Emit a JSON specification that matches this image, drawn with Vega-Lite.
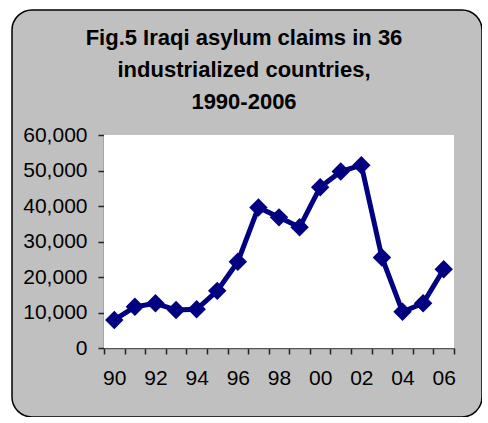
{
  "$schema": "https://vega.github.io/schema/vega-lite/v6.json",
  "width": 470,
  "height": 407,
  "autosize": "none",
  "padding": {"left": 12, "top": 10, "right": 0, "bottom": 0},
  "background": "white",
  "title": {
    "text": ["Fig.5 Iraqi asylum claims in 36", "industrialized countries,", "1990-2006"],
    "font": "Liberation Sans",
    "fontSize": 22,
    "fontWeight": "bold",
    "color": "black",
    "lineHeight": 32,
    "anchor": "middle",
    "frame": "group",
    "baseline": "top",
    "offset": -104,
    "dx": -3
  },
  "view": {"fill": "#c0c0c0", "stroke": "black", "strokeWidth": 1.5, "cornerRadius": 20},
  "config": {
    "axis": {
      "labelFont": "Liberation Sans",
      "labelFontSize": 21,
      "labelColor": "black",
      "domainColor": "#555555",
      "domainWidth": 1.5,
      "tickColor": "#222222",
      "tickWidth": 1.5,
      "tickSize": 6,
      "grid": false,
      "title": null
    }
  },
  "layer": [
    {
      "data": {"values": [{"x0": 1989.5, "x1": 2006.5, "y0": 0, "y1": 60000}]},
      "mark": {"type": "rect", "fill": "white"},
      "encoding": {
        "x": {
          "field": "x0", "type": "quantitative",
          "scale": {"domain": [1989.5, 2006.5], "range": [92, 442], "nice": false, "zero": false},
          "axis": {
            "offset": -69,
            "values": [1989.5, 1990, 1990.5, 1991, 1991.5, 1992, 1992.5, 1993, 1993.5, 1994, 1994.5, 1995, 1995.5, 1996, 1996.5, 1997, 1997.5, 1998, 1998.5, 1999, 1999.5, 2000, 2000.5, 2001, 2001.5, 2002, 2002.5, 2003, 2003.5, 2004, 2004.5, 2005, 2005.5, 2006, 2006.5],
            "labelExpr": "datum.value % 2 === 0 ? substring(toString(datum.value), 2) : ''",
            "tickOpacity": {"condition": {"test": "datum.value % 1 !== 0", "value": 1}, "value": 0},
            "labelOverlap": false,
            "labelFlush": false,
            "labelPadding": 13
          }
        },
        "x2": {"field": "x1"},
        "y": {
          "field": "y0", "type": "quantitative",
          "scale": {"domain": [0, 60000], "range": [338, 125], "nice": false},
          "axis": {
            "offset": -92,
            "values": [0, 10000, 20000, 30000, 40000, 50000, 60000],
            "format": ",.0f",
            "labelPadding": 11
          }
        },
        "y2": {"field": "y1"}
      }
    },
    {
      "data": {"values": [
        {"year": 1990, "claims": 7900},
        {"year": 1991, "claims": 11600},
        {"year": 1992, "claims": 12600},
        {"year": 1993, "claims": 10700},
        {"year": 1994, "claims": 10900},
        {"year": 1995, "claims": 16100},
        {"year": 1996, "claims": 24300},
        {"year": 1997, "claims": 39600},
        {"year": 1998, "claims": 36800},
        {"year": 1999, "claims": 34000},
        {"year": 2000, "claims": 45300},
        {"year": 2001, "claims": 49700},
        {"year": 2002, "claims": 51500},
        {"year": 2003, "claims": 25500},
        {"year": 2004, "claims": 10200},
        {"year": 2005, "claims": 12600},
        {"year": 2006, "claims": 22200}
      ]},
      "encoding": {
        "x": {
          "field": "year", "type": "quantitative",
          "scale": {"domain": [1989.5, 2006.5], "range": [92, 442], "nice": false, "zero": false},
          "axis": {
            "offset": -69,
            "values": [1989.5, 1990, 1990.5, 1991, 1991.5, 1992, 1992.5, 1993, 1993.5, 1994, 1994.5, 1995, 1995.5, 1996, 1996.5, 1997, 1997.5, 1998, 1998.5, 1999, 1999.5, 2000, 2000.5, 2001, 2001.5, 2002, 2002.5, 2003, 2003.5, 2004, 2004.5, 2005, 2005.5, 2006, 2006.5],
            "labelExpr": "datum.value % 2 === 0 ? substring(toString(datum.value), 2) : ''",
            "tickOpacity": {"condition": {"test": "datum.value % 1 !== 0", "value": 1}, "value": 0},
            "labelOverlap": false,
            "labelFlush": false,
            "labelPadding": 13
          }
        },
        "y": {
          "field": "claims", "type": "quantitative",
          "scale": {"domain": [0, 60000], "range": [338, 125], "nice": false},
          "axis": {
            "offset": -92,
            "values": [0, 10000, 20000, 30000, 40000, 50000, 60000],
            "format": ",.0f",
            "labelPadding": 11
          }
        }
      },
      "layer": [
        {"mark": {"type": "line", "color": "#000080", "strokeWidth": 5}},
        {"mark": {"type": "point", "shape": "diamond", "filled": true, "size": 340, "color": "#000080", "opacity": 1}}
      ]
    }
  ]
}
